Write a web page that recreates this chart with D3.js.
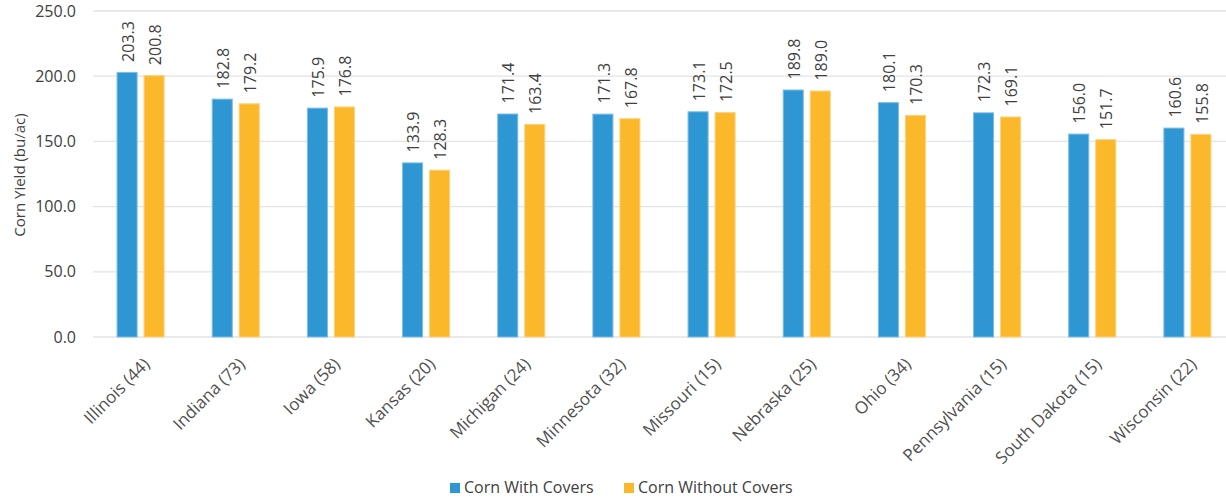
<!DOCTYPE html>
<html>
<head>
<meta charset="utf-8">
<script src="https://cdn.jsdelivr.net/npm/d3@7"></script>
<style>
  html, body { margin: 0; padding: 0; background: #fff; }
  svg { display: block; }
  text { font-family: "Open Sans", sans-serif; fill: #404040; }
</style>
</head>
<body>
<svg id="chart" width="1226" height="500"></svg>
<script>
const categories = ["Illinois (44)", "Indiana (73)", "Iowa (58)", "Kansas (20)", "Michigan (24)", "Minnesota (32)", "Missouri (15)", "Nebraska (25)", "Ohio (34)", "Pennsylvania (15)", "South Dakota (15)", "Wisconsin (22)"];
const seriesNames = ["Corn With Covers", "Corn Without Covers"];
const withCovers = [203.3, 182.8, 175.9, 133.9, 171.4, 171.3, 173.1, 189.8, 180.1, 172.3, 156.0, 160.6];
const withoutCovers = [200.8, 179.2, 176.8, 128.3, 163.4, 167.8, 172.5, 189.0, 170.3, 169.1, 151.7, 155.8];
const yTicks = [0, 50, 100, 150, 200, 250];
const colors = ["#2E97D3", "#FBB82B"];
const strokes = ["#7DBDE6", "#FDD27A"];

const svg = d3.select("#chart");
const mLeft = 93, mRight = 1235, mTop = 11, mBottom = 337;

const x0 = d3.scaleBand().domain(categories).range([mLeft, mRight]).paddingInner(0.495).paddingOuter(0.2475);
const x1 = d3.scaleBand().domain(seriesNames).range([0, x0.bandwidth()]).paddingInner(0.22);
const y = d3.scaleLinear().domain([0, 250]).range([mBottom, mTop]);

// gridlines
svg.append("g").selectAll("line").data(yTicks).join("line")
  .attr("x1", mLeft).attr("x2", 1226)
  .attr("y1", d => y(d)).attr("y2", d => y(d))
  .attr("stroke", "#e3e3e3").attr("stroke-width", 1.3);

// y axis labels
const yAxis = d3.axisLeft(y).tickValues(yTicks).tickFormat(d3.format(".1f")).tickSize(0).tickPadding(0);
const ya = svg.append("g").attr("transform", `translate(${mLeft - 17},0)`).call(yAxis);
ya.select(".domain").remove();
ya.selectAll("text").attr("font-size", 16).attr("font-family", "Open Sans, sans-serif").attr("fill", "#404040");

// y title
svg.append("text")
  .attr("transform", `translate(25,175) rotate(-90)`)
  .attr("text-anchor", "middle")
  .attr("font-size", 15)
  .text("Corn Yield (bu/ac)");

const data = categories.map((c, i) => ({cat: c, vals: [withCovers[i], withoutCovers[i]]}));

const groups = svg.append("g").selectAll("g").data(data).join("g")
  .attr("transform", d => `translate(${x0(d.cat)},0)`);

groups.selectAll("rect").data(d => d.vals.map((v, j) => ({s: seriesNames[j], v, j}))).join("rect")
  .attr("x", d => x1(d.s) + 0.5)
  .attr("width", x1.bandwidth() - 1)
  .attr("y", d => y(d.v) + 0.5)
  .attr("height", d => y(0) - y(d.v) - 0.5)
  .attr("fill", d => colors[d.j])
  .attr("stroke", d => strokes[d.j])
  .attr("stroke-width", 1);

groups.selectAll("text.val").data(d => d.vals.map((v, j) => ({s: seriesNames[j], v, j}))).join("text")
  .attr("class", "val")
  .attr("transform", d => `translate(${x1(d.s) + x1.bandwidth() / 2 + 1},${y(d.v) - 10}) rotate(-90)`)
  .attr("dy", "0.35em")
  .attr("font-size", 16)
  .text(d => d3.format(".1f")(d.v));

// x axis labels
svg.append("g").selectAll("text").data(categories).join("text")
  .attr("transform", d => `translate(${x0(d) + x0.bandwidth() / 2 + 6},${mBottom + 24}) rotate(-45)`)
  .attr("text-anchor", "end")
  .attr("dy", "0.35em")
  .attr("font-size", 17)
  .style("fill", "#505050")
  .text(d => d);

// legend
const legendX = [450, 624];
const lg = svg.append("g").selectAll("g").data(seriesNames).join("g")
  .attr("transform", (d, i) => `translate(${legendX[i]},483)`);
lg.append("rect").attr("width", 10).attr("height", 10).attr("fill", (d, i) => colors[i]);
lg.append("text").attr("x", 14).attr("y", 10).attr("font-size", 16).text(d => d);
</script>
</body>
</html>
